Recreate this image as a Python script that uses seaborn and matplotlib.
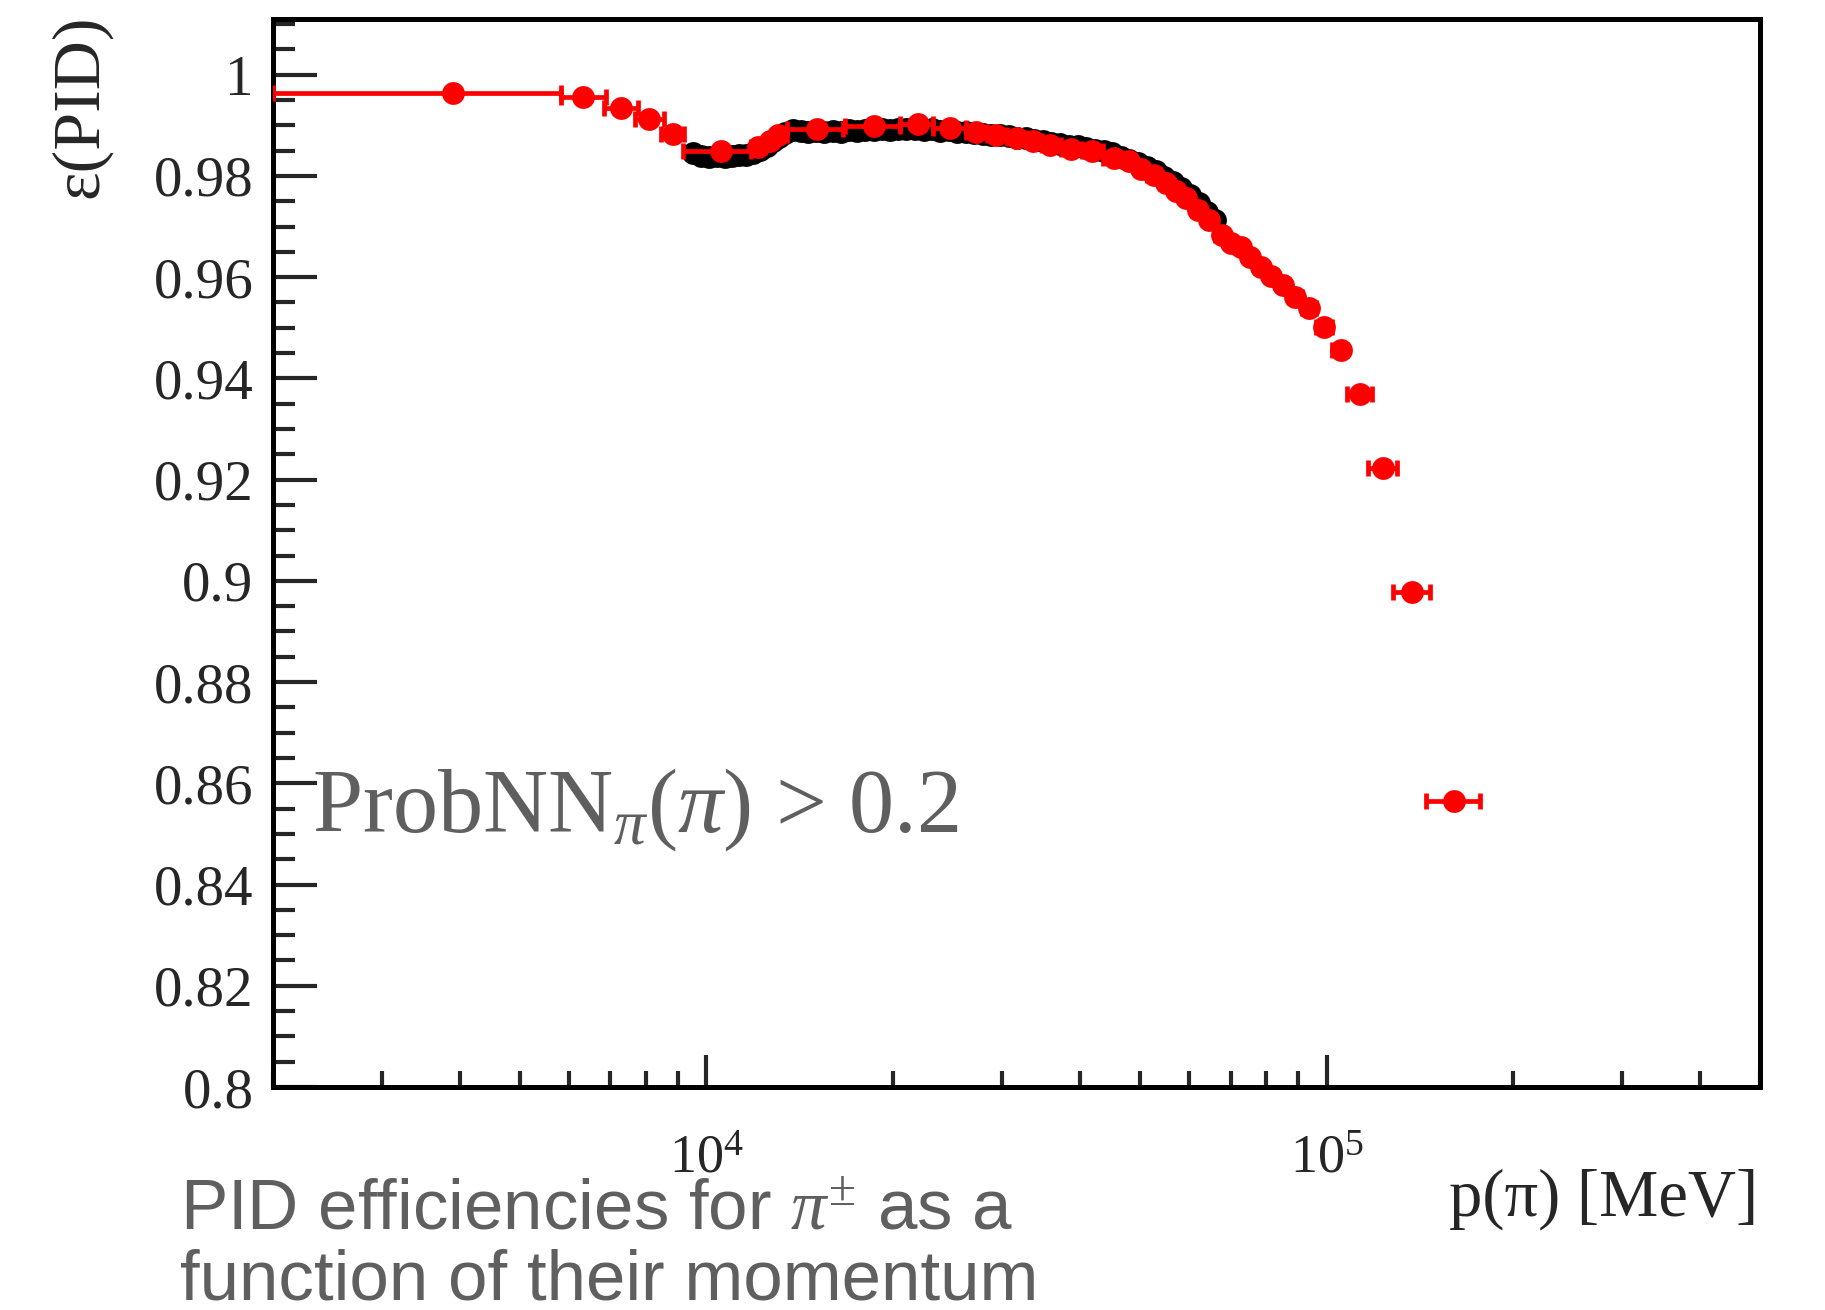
import numpy as np
import pandas as pd
import matplotlib
matplotlib.use("Agg")
import matplotlib.pyplot as plt
import seaborn as sns
from matplotlib.ticker import LogLocator, MultipleLocator, NullFormatter, FuncFormatter, LogFormatterMathtext

# ---------------- data ----------------
# red series: bin centre, efficiency, bin low edge, bin high edge
red_p = [3896, 6324, 7280, 8087, 8820, 10540, 12120, 12650, 13050, 15060,
         18650, 21910, 24730, 27240, 29350, 31740, 33610, 35830, 38750, 41910,
         45450, 48060, 50190, 52750, 55100, 57190, 59360, 62000, 64740, 67800,
         70010, 72660, 75150, 78290, 81470, 85100, 89090, 93610, 99000, 105500,
         113200, 123200, 137300, 160300]
red_eff = [0.9963, 0.99558, 0.99333, 0.99129, 0.98832, 0.98501, 0.98568, 0.98687, 0.98818, 0.98917,
           0.98984, 0.99016, 0.98937, 0.98871, 0.98818, 0.98752, 0.98687, 0.98620, 0.98541, 0.98501,
           0.98356, 0.98291, 0.98145, 0.98014, 0.97861, 0.97697, 0.97564, 0.97333, 0.97135, 0.96826,
           0.96673, 0.96588, 0.96390, 0.96192, 0.96014, 0.95836, 0.95598, 0.95386, 0.95024, 0.94560,
           0.93683, 0.92238, 0.89776, 0.85650]
red_lo = [2000, 5823, 6838, 7675, 8446, 9180, 11780, 12450, 12850, 13490,
          16700, 20540, 23200, 26180, 28300, 30500, 32700, 34700, 37300, 40300,
          43600, 46800, 49100, 51400, 53900, 56100, 58300, 60600, 63400, 66200,
          68900, 71300, 73900, 76700, 79900, 83300, 87000, 91300, 96300, 102000,
          108000, 116800, 128200, 144600]
red_hi = [5820, 6885, 7765, 8551, 9213, 11780, 12450, 12850, 13490, 16590,
          20540, 23200, 26180, 28300, 30500, 32700, 34700, 37300, 40300, 43600,
          46800, 49100, 51400, 53900, 56100, 58300, 60600, 63400, 66200, 68900,
          71300, 73900, 76700, 79900, 83300, 87000, 91300, 96300, 102000, 108000,
          118600, 130100, 146900, 176600]

# black series (fine binning, mostly hidden behind the red one)
black_p = [9500, 9800, 10100, 10400, 10700, 11000, 11300, 11600, 11900, 12200,
           12500, 12800, 13100, 13400, 13800, 14200, 14600, 15000, 15500, 16000,
           16500, 17000, 17500, 18000, 18600, 19200, 19800, 20400, 21000, 21700,
           22400, 23100, 23800, 24600, 25400, 26200, 27000, 27900, 28800, 29700,
           30700, 31700, 32700, 33800, 34900, 36000, 37200, 38400, 39700, 41000,
           42300, 43700, 45100, 46600, 48100, 49700, 51300, 53000, 54700, 56500,
           58300, 60200, 62200, 64200, 66000]
black_eff = [0.9846, 0.9840, 0.9838, 0.9840, 0.9838, 0.9840, 0.9842, 0.9841, 0.9846, 0.9852,
             0.9860, 0.9868, 0.9876, 0.9884, 0.9890, 0.9889, 0.9887, 0.9888, 0.9886, 0.9888,
             0.9887, 0.9890, 0.9889, 0.9891, 0.9890, 0.9892, 0.9891, 0.9893, 0.9892, 0.9893,
             0.9891, 0.9892, 0.9889, 0.9890, 0.9887, 0.9886, 0.9884, 0.9883, 0.9881, 0.9880,
             0.9878, 0.9875, 0.9874, 0.9871, 0.9869, 0.9866, 0.9864, 0.9860, 0.9859, 0.9855,
             0.9852, 0.9849, 0.9845, 0.9838, 0.9832, 0.9825, 0.9818, 0.9810, 0.9798, 0.9787,
             0.9776, 0.9762, 0.9746, 0.9728, 0.9713]

# ---------------- style ----------------
sns.set_style("white")
plt.rcParams["font.family"] = ["Liberation Serif", "DejaVu Serif"]
plt.rcParams["mathtext.fontset"] = "custom"
plt.rcParams["mathtext.rm"] = "Liberation Serif"
plt.rcParams["mathtext.it"] = "Liberation Serif:italic"
plt.rcParams["mathtext.bf"] = "Liberation Serif:bold"

W, H = 1825, 1310
fig = plt.figure(figsize=(W / 100, H / 100), dpi=100)
L, R, T, B = 273, 1760, 19, 1087
ax = fig.add_axes([L / W, 1 - B / H, (R - L) / W, (B - T) / H])

red_df = pd.DataFrame({"p": red_p, "eff": red_eff, "lo": red_lo, "hi": red_hi})
blk_df = pd.DataFrame({"p": black_p, "eff": black_eff})

ax.set_xscale("log")
sns.scatterplot(data=blk_df, x="p", y="eff", ax=ax, color="black", s=270,
                linewidth=0, marker="o", zorder=2, legend=False)
ax.errorbar(red_df["p"], red_df["eff"],
            xerr=[red_df["p"] - red_df["lo"], red_df["hi"] - red_df["p"]],
            fmt="none", ecolor="#ff0000", elinewidth=3.4, capsize=5.5, capthick=3.4, zorder=3)
sns.scatterplot(data=red_df, x="p", y="eff", ax=ax, color="#ff0000", s=270,
                linewidth=0, marker="o", zorder=4, legend=False)

ax.set_xlim(2000, 5e5)
ax.set_ylim(0.8, 1.011)
ax.set_xlabel("")
ax.set_ylabel("")

for sp in ax.spines.values():
    sp.set_linewidth(3.6)
    sp.set_color("black")

ax.yaxis.set_major_locator(MultipleLocator(0.02))
ax.yaxis.set_minor_locator(MultipleLocator(0.005))
ax.yaxis.set_major_formatter(FuncFormatter(lambda v, pos: "%g" % round(v, 3)))
ax.xaxis.set_major_locator(LogLocator(base=10, numticks=10))
ax.xaxis.set_minor_locator(LogLocator(base=10, subs=np.arange(2, 10), numticks=20))
ax.xaxis.set_major_formatter(LogFormatterMathtext())
ax.xaxis.set_minor_formatter(NullFormatter())

ax.tick_params(axis="y", which="major", direction="in", length=32, width=3,
               labelsize=41, pad=14, left=True, right=False)
ax.tick_params(axis="y", which="minor", direction="in", length=16, width=3,
               left=True, right=False)
ax.tick_params(axis="x", which="major", direction="in", length=23, width=3,
               labelsize=39, pad=34, bottom=True, top=False)
ax.tick_params(axis="x", which="minor", direction="in", length=11.5, width=3,
               bottom=True, top=False)

# axis titles
fig.text(81 / W, 1 - 15 / H, "ε(PID)", rotation=90, ha="center", va="top", fontsize=49)
fig.text(1758 / W, 1 - 1199 / H, "p(π) [MeV]", ha="right", va="center", fontsize=48)

# selection label
grey = "#5f5f5f"
fig.text(312 / W, 1 - 832 / H, r"ProbNN$_{\pi}$($\pi$) > 0.2", ha="left", va="baseline",
         fontsize=65, color=grey)

# caption
fig.text(180 / W, 1 - 1229 / H, r"PID efficiencies for $\pi^{\pm}$ as a", ha="left", va="baseline",
         fontsize=51, color=grey, family=["Liberation Sans", "DejaVu Sans"])
fig.text(180 / W, 1 - 1300 / H, "function of their momentum", ha="left", va="baseline",
         fontsize=51, color=grey, family=["Liberation Sans", "DejaVu Sans"])

fig.savefig("out.png", dpi=100, facecolor="white")
